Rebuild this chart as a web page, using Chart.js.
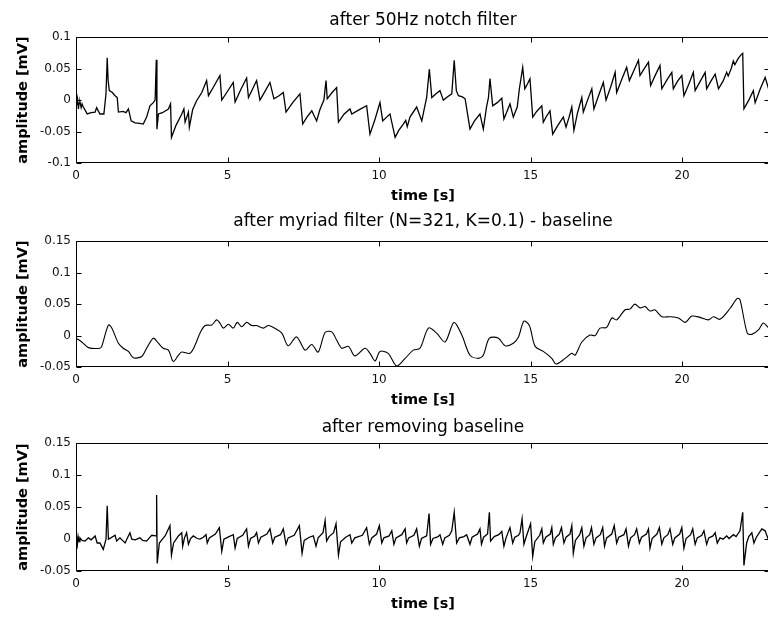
<!DOCTYPE html>
<html>
<head>
<meta charset="utf-8">
<script src="https://cdn.jsdelivr.net/npm/chart.js@4.4.1/dist/chart.umd.min.js"></script>
<style>
  html, body { margin:0; padding:0; background:#fff; overflow:hidden; }
  #wrap { position:relative; width:768px; height:617px; overflow:hidden; background:#fff; }
  canvas { position:absolute; left:0; }
</style>
</head>
<body>
<div id="wrap">
  <canvas id="c1" width="771" height="195" style="top:10px"></canvas>
  <canvas id="c2" width="771" height="198" style="top:211px"></canvas>
  <canvas id="c3" width="771" height="196" style="top:417px"></canvas>
</div>
<script>
// ---------- data ----------
const titles = ['after 50Hz notch filter', 'after myriad filter (N=321, K=0.1) - baseline', 'after removing baseline'];
const xLabel = 'time [s]';
const yLabel = 'amplitude [mV]';
const xTicks = [0, 5, 10, 15, 20];
const yTicksTop = [-0.1, -0.05, 0, 0.05, 0.1];
const yTicksLow = [-0.05, 0, 0.05, 0.1, 0.15];

// after 50Hz notch filter  [time s, amplitude mV]
const notch = [
[0,0],[0.02,-0.008],[0.05,0.002],[0.08,-0.014],[0.1,-0.005],[0.13,-0.003],[0.17,-0.012],[0.2,-0.006],[0.24,-0.011],[0.3,-0.016],
[0.37,-0.022],[0.5,-0.02],[0.63,-0.019],[0.68,-0.012],[0.79,-0.022],[0.92,-0.022],[0.99,0.01],[1.03,0.067],[1.06,0.031],[1.1,0.015],
[1.2,0.012],[1.29,0.007],[1.36,0.004],[1.4,-0.019],[1.55,-0.018],[1.65,-0.02],[1.73,-0.014],[1.82,-0.033],[1.95,-0.036],[2.1,-0.037],
[2.22,-0.038],[2.33,-0.027],[2.44,-0.009],[2.55,-0.004],[2.61,0],[2.65,0.064],[2.67,-0.046],[2.72,-0.022],[2.85,-0.02],[3.05,-0.014],
[3.12,-0.006],[3.15,-0.059],[3.3,-0.04],[3.49,-0.022],[3.56,-0.014],[3.6,-0.035],[3.71,-0.019],[3.74,-0.043],[3.85,-0.015],[3.98,-0.001],
[4.15,0.012],[4.31,0.031],[4.37,0.007],[4.55,0.022],[4.75,0.039],[4.81,0],[5.0,0.014],[5.19,0.028],[5.25,-0.003],[5.45,0.018],
[5.63,0.035],[5.69,0.004],[5.85,0.02],[5.96,0.031],[6.07,0],[6.25,0.015],[6.4,0.028],[6.53,0.002],[6.7,0.007],[6.84,0.012],
[6.93,-0.019],[7.15,-0.004],[7.39,0.01],[7.48,-0.038],[7.62,-0.027],[7.78,-0.017],[7.94,-0.033],[8.05,-0.015],[8.18,0],[8.25,0.031],
[8.29,0.002],[8.45,0.012],[8.6,0.02],[8.66,-0.035],[8.85,-0.022],[9.04,-0.014],[9.1,-0.022],[9.35,-0.015],[9.59,-0.009],[9.7,-0.054],
[9.87,-0.03],[10.03,-0.004],[10.12,-0.033],[10.25,-0.027],[10.36,-0.022],[10.53,-0.059],[10.65,-0.048],[10.8,-0.038],[10.88,-0.032],[10.93,-0.042],
[11.02,-0.027],[11.24,-0.011],[11.41,-0.033],[11.5,-0.012],[11.57,0.004],[11.66,0.049],[11.74,0.004],[11.88,0.01],[12.01,0.015],[12.12,0],
[12.25,0.005],[12.4,0.01],[12.48,0.063],[12.55,0.015],[12.62,0.007],[12.75,0.005],[12.84,0.002],[13.0,-0.046],[13.15,-0.033],[13.33,-0.022],
[13.44,-0.046],[13.55,-0.01],[13.61,0.004],[13.66,0.034],[13.75,-0.009],[13.9,-0.004],[14.05,0.003],[14.12,-0.03],[14.22,-0.018],[14.32,-0.006],
[14.43,-0.027],[14.5,-0.018],[14.56,-0.011],[14.63,0.018],[14.74,0.052],[14.81,0.018],[14.9,0.026],[14.98,0.034],[15.07,-0.027],[15.2,-0.018],
[15.37,-0.009],[15.42,-0.035],[15.52,-0.026],[15.64,-0.017],[15.73,-0.054],[15.9,-0.04],[16.08,-0.027],[16.17,-0.043],[16.27,-0.027],[16.36,-0.011],
[16.43,-0.048],[16.55,-0.02],[16.69,0.004],[16.74,-0.019],[16.88,0],[17.02,0.018],[17.09,-0.014],[17.25,0.008],[17.4,0.028],[17.49,0],
[17.65,0.022],[17.79,0.044],[17.84,0.012],[18.0,0.032],[18.17,0.052],[18.26,0.031],[18.42,0.048],[18.56,0.063],[18.61,0.039],[18.75,0.05],
[18.89,0.06],[18.96,0.023],[19.12,0.04],[19.27,0.055],[19.33,0.018],[19.5,0.032],[19.66,0.044],[19.71,0.018],[19.85,0.03],[19.99,0.039],
[20.06,0.007],[20.22,0.025],[20.37,0.044],[20.43,0.015],[20.6,0.03],[20.76,0.044],[20.81,0.018],[20.95,0.03],[21.09,0.041],[21.2,0.018],
[21.35,0.03],[21.47,0.044],[21.52,0.038],[21.62,0.05],[21.69,0.062],[21.74,0.056],[21.85,0.066],[21.95,0.072],[22.0,0.074],[22.04,-0.014],
[22.2,0],[22.35,0.015],[22.41,-0.004],[22.58,0.018],[22.74,0.036],[22.84,0.02],[22.9,0.024]
];

// after myriad filter (N=321, K=0.1) - baseline
const baseline = [
[0,-0.004],[0.19,-0.01],[0.41,-0.019],[0.79,-0.02],[0.85,-0.017],[1.07,0.017],[1.18,0.012],[1.4,-0.012],[1.56,-0.02],[1.73,-0.025],
[1.89,-0.035],[2.17,-0.033],[2.33,-0.02],[2.55,-0.004],[2.72,-0.012],[2.88,-0.02],[3.05,-0.023],[3.21,-0.041],[3.38,-0.031],[3.49,-0.026],
[3.76,-0.028],[3.93,-0.015],[4.09,0.004],[4.26,0.016],[4.48,0.017],[4.64,0.025],[4.75,0.02],[4.86,0.012],[5.03,0.018],[5.19,0.012],
[5.32,0.021],[5.47,0.014],[5.63,0.021],[5.8,0.016],[5.96,0.016],[6.18,0.012],[6.35,0.016],[6.51,0.013],[6.79,0.004],[7.0,-0.016],
[7.28,-0.002],[7.56,-0.023],[7.78,-0.014],[7.99,-0.026],[8.22,0.005],[8.44,0.006],[8.6,-0.007],[8.77,-0.02],[8.99,-0.017],[9.2,-0.032],
[9.54,-0.02],[9.7,-0.028],[9.87,-0.04],[10.03,-0.025],[10.3,-0.028],[10.58,-0.048],[10.86,-0.036],[11.13,-0.023],[11.35,-0.02],[11.63,0.012],
[11.9,0.004],[12.18,-0.01],[12.47,0.021],[12.73,0.001],[13.0,-0.031],[13.28,-0.036],[13.44,-0.031],[13.64,-0.004],[13.94,-0.004],[14.16,-0.016],
[14.43,-0.012],[14.6,-0.002],[14.78,0.023],[14.96,0.016],[15.15,-0.017],[15.42,-0.025],[15.7,-0.036],[15.84,-0.045],[16.14,-0.036],[16.36,-0.028],
[16.47,-0.031],[16.69,-0.01],[16.96,0.001],[17.13,0],[17.29,0.012],[17.51,0.013],[17.68,0.028],[17.84,0.025],[18.12,0.041],[18.28,0.042],
[18.44,0.05],[18.61,0.044],[18.78,0.046],[18.94,0.039],[19.1,0.041],[19.33,0.03],[19.6,0.03],[19.88,0.028],[20.1,0.021],[20.32,0.031],
[20.59,0.029],[20.87,0.025],[21.03,0.03],[21.25,0.026],[21.58,0.043],[21.82,0.059],[21.91,0.057],[22.15,0.004],[22.3,0.002],[22.52,0.009],
[22.68,0.02],[22.84,0.013],[22.9,0.012]
];

// after removing baseline
const cleaned = [
[0,0.005],[0.02,-0.008],[0.04,-0.011],[0.07,0.004],[0.1,-0.004],[0.13,0.002],[0.2,-0.002],[0.3,-0.003],[0.41,0.002],[0.5,-0.001],
[0.63,0.005],[0.7,-0.006],[0.79,-0.006],[0.9,-0.016],[0.99,0],[1.03,0.052],[1.07,0],[1.15,0.002],[1.29,0.006],[1.34,-0.003],
[1.45,0.002],[1.62,-0.006],[1.72,0.004],[1.78,0.01],[1.84,0],[1.95,-0.001],[2.11,0.002],[2.2,-0.002],[2.33,-0.003],[2.42,0.002],
[2.5,0.006],[2.64,0.005],[2.66,0.069],[2.68,-0.038],[2.75,-0.006],[2.85,0],[2.94,0.005],[3.1,0.021],[3.15,-0.025],[3.22,-0.006],
[3.38,0.005],[3.49,0.01],[3.52,-0.011],[3.58,0.002],[3.65,0.01],[3.71,-0.008],[3.78,0.001],[3.87,0.005],[4.0,0.001],[4.09,0],
[4.2,0.003],[4.29,0.007],[4.33,-0.006],[4.4,0.002],[4.6,0.008],[4.73,0.018],[4.81,-0.019],[4.88,0],[5.05,0.004],[5.19,0.007],
[5.25,-0.014],[5.32,0.001],[5.5,0.006],[5.63,0.016],[5.69,-0.011],[5.76,0.001],[5.9,0.005],[5.96,0.01],[6.02,-0.006],[6.1,0.003],
[6.3,0.008],[6.4,0.016],[6.49,-0.006],[6.56,0.003],[6.75,0.007],[6.84,0.016],[6.93,-0.008],[7.0,0.002],[7.2,0.006],[7.37,0.021],
[7.46,-0.022],[7.53,-0.002],[7.7,0.003],[7.83,0.005],[7.92,-0.011],[7.99,0.002],[8.15,0.01],[8.22,0.029],[8.27,-0.003],[8.35,0.004],
[8.5,0.01],[8.58,0.024],[8.66,-0.025],[8.73,-0.004],[8.9,0.003],[9.04,0.007],[9.1,-0.006],[9.2,0.002],[9.45,0.006],[9.59,0.018],
[9.68,-0.008],[9.76,0.002],[9.92,0.008],[10.01,0.021],[10.09,-0.006],[10.16,0.002],[10.33,0.005],[10.42,0.013],[10.49,-0.008],[10.56,0.002],
[10.75,0.007],[10.86,0.016],[10.91,-0.006],[10.98,0.002],[11.15,0.006],[11.24,0.016],[11.33,-0.011],[11.4,0.001],[11.57,0.005],[11.65,0.04],
[11.7,-0.008],[11.78,0.001],[11.95,0.004],[12.01,0.007],[12.1,-0.008],[12.17,0.002],[12.32,0.006],[12.4,0.013],[12.48,0.042],[12.56,-0.006],
[12.65,0.002],[12.8,0.004],[12.89,0.007],[13.0,-0.008],[13.07,0.003],[13.25,0.008],[13.33,0.016],[13.38,-0.008],[13.45,0.003],[13.58,0.008],
[13.64,0.042],[13.68,-0.003],[13.8,0.004],[13.95,0.007],[14.05,0.012],[14.12,-0.011],[14.19,0.002],[14.32,0.018],[14.41,-0.006],[14.48,0.003],
[14.6,0.006],[14.65,0.01],[14.72,0.032],[14.78,-0.008],[14.85,0.003],[15.0,0.024],[15.07,-0.027],[15.14,-0.004],[15.3,0.006],[15.37,0.016],
[15.42,-0.006],[15.5,0.003],[15.65,0.008],[15.7,0.018],[15.75,-0.008],[15.82,0.002],[15.95,0.008],[16.02,0.018],[16.1,-0.006],[16.17,0.003],
[16.3,0.008],[16.36,0.021],[16.41,-0.022],[16.48,-0.002],[16.62,0.007],[16.69,0.018],[16.76,-0.011],[16.83,0.002],[16.95,0.007],[17.01,0.018],
[17.09,-0.008],[17.16,0.002],[17.3,0.007],[17.38,0.018],[17.44,-0.011],[17.51,0.002],[17.68,0.008],[17.76,0.021],[17.84,-0.006],[17.91,0.003],
[18.08,0.007],[18.15,0.016],[18.23,-0.011],[18.3,0.002],[18.43,0.007],[18.5,0.016],[18.59,-0.006],[18.66,0.003],[18.82,0.008],[18.89,0.016],
[18.94,-0.014],[19.01,0.001],[19.17,0.008],[19.25,0.018],[19.33,-0.008],[19.4,0.002],[19.53,0.007],[19.6,0.016],[19.69,-0.008],[19.76,0.002],
[19.92,0.008],[19.99,0.018],[20.06,-0.014],[20.13,0.001],[20.28,0.007],[20.35,0.016],[20.43,-0.008],[20.5,0.002],[20.65,0.006],[20.72,0.013],
[20.81,-0.008],[20.88,0.002],[21.02,0.005],[21.09,0.01],[21.16,-0.006],[21.25,0.002],[21.35,0],[21.47,0.005],[21.55,0.001],[21.69,0.007],
[21.78,0.004],[21.91,0.013],[22.0,0.042],[22.04,-0.041],[22.13,-0.006],[22.2,0.004],[22.3,0.01],[22.37,-0.006],[22.45,0.003],[22.63,0.016],
[22.74,0.013],[22.84,0],[22.9,0.004]
];

// ---------- rendering ----------
const FONT = "'DejaVu Sans', 'Liberation Sans', Arial, sans-serif";

const boxPlugin = {
  id: 'matlabBox',
  afterDatasetsDraw(chart) {
    const {ctx, chartArea, scales} = chart;
    const L = Math.round(chartArea.left) + 0.5, R = Math.round(chartArea.right) - 0.5;
    const T = Math.round(chartArea.top) + 0.5, B = Math.round(chartArea.bottom) - 0.5;
    const tl = 5;
    ctx.save();
    ctx.strokeStyle = '#000';
    ctx.lineWidth = 1;
    ctx.beginPath();
    ctx.rect(L, T, R - L, B - T);
    scales.x.ticks.forEach(t => {
      const px = Math.round(scales.x.getPixelForValue(t.value)) + 0.5;
      ctx.moveTo(px, B); ctx.lineTo(px, B - tl);
      ctx.moveTo(px, T); ctx.lineTo(px, T + tl);
    });
    scales.y.ticks.forEach(t => {
      const py = Math.round(scales.y.getPixelForValue(t.value)) + 0.5;
      ctx.moveTo(L, py); ctx.lineTo(L + tl, py);
      ctx.moveTo(R, py); ctx.lineTo(R - tl, py);
    });
    ctx.stroke();
    ctx.restore();
  }
};

function makeChart(id, title, series, yMin, yMax, yTicks, gap, tension, lw) {
  const data = series.map(p => ({x: p[0], y: p[1]}));
  return new Chart(document.getElementById(id), {
    type: 'line',
    data: { datasets: [{ data, borderColor: '#000', borderWidth: lw, pointRadius: 0, tension, fill: false }] },
    options: {
      responsive: false, animation: false, devicePixelRatio: 1,
      layout: { padding: { left: 0, right: 1, top: 0, bottom: 0 } },
      plugins: {
        legend: { display: false }, tooltip: { enabled: false },
        title: { display: true, text: title, fullSize: false, color: '#000',
                 font: { family: FONT, size: 17, weight: 'normal', lineHeight: 1.2 },
                 padding: { top: 0, bottom: gap } }
      },
      scales: {
        x: {
          type: 'linear', min: 0, max: 22.9,
          afterBuildTicks: s => { s.ticks = xTicks.map(v => ({value: v})); },
          grid: { display: false, drawTicks: false }, border: { display: false },
          ticks: { color: '#111', padding: 5, maxRotation: 0, autoSkip: false,
                   font: { family: FONT, size: 12, lineHeight: 1.2 }, callback: v => String(v) },
          title: { display: true, text: xLabel, color: '#000',
                   font: { family: FONT, size: 14.5, weight: 'bold', lineHeight: 1.2 },
                   padding: { top: 0, bottom: 0 } }
        },
        y: {
          type: 'linear', min: yMin, max: yMax,
          afterBuildTicks: s => { s.ticks = yTicks.map(v => ({value: v})); },
          afterFit: s => { s.width = 76; },
          grid: { display: false, drawTicks: false }, border: { display: false },
          ticks: { color: '#111', padding: 5, autoSkip: false,
                   font: { family: FONT, size: 12, lineHeight: 1.2 }, callback: v => String(v) },
          title: { display: true, text: yLabel, color: '#000',
                   font: { family: FONT, size: 14.5, weight: 'bold', lineHeight: 1.2 },
                   padding: { top: 15, bottom: 0 } }
        }
      }
    },
    plugins: [boxPlugin]
  });
}

makeChart('c1', titles[0], notch, -0.1, 0.1, yTicksTop, 6.6, 0, 1.3);
makeChart('c2', titles[1], baseline, -0.05, 0.15, yTicksLow, 9.6, 0.3, 1.1);
makeChart('c3', titles[2], cleaned, -0.05, 0.15, yTicksLow, 5.6, 0, 1.3);
</script>
</body>
</html>
